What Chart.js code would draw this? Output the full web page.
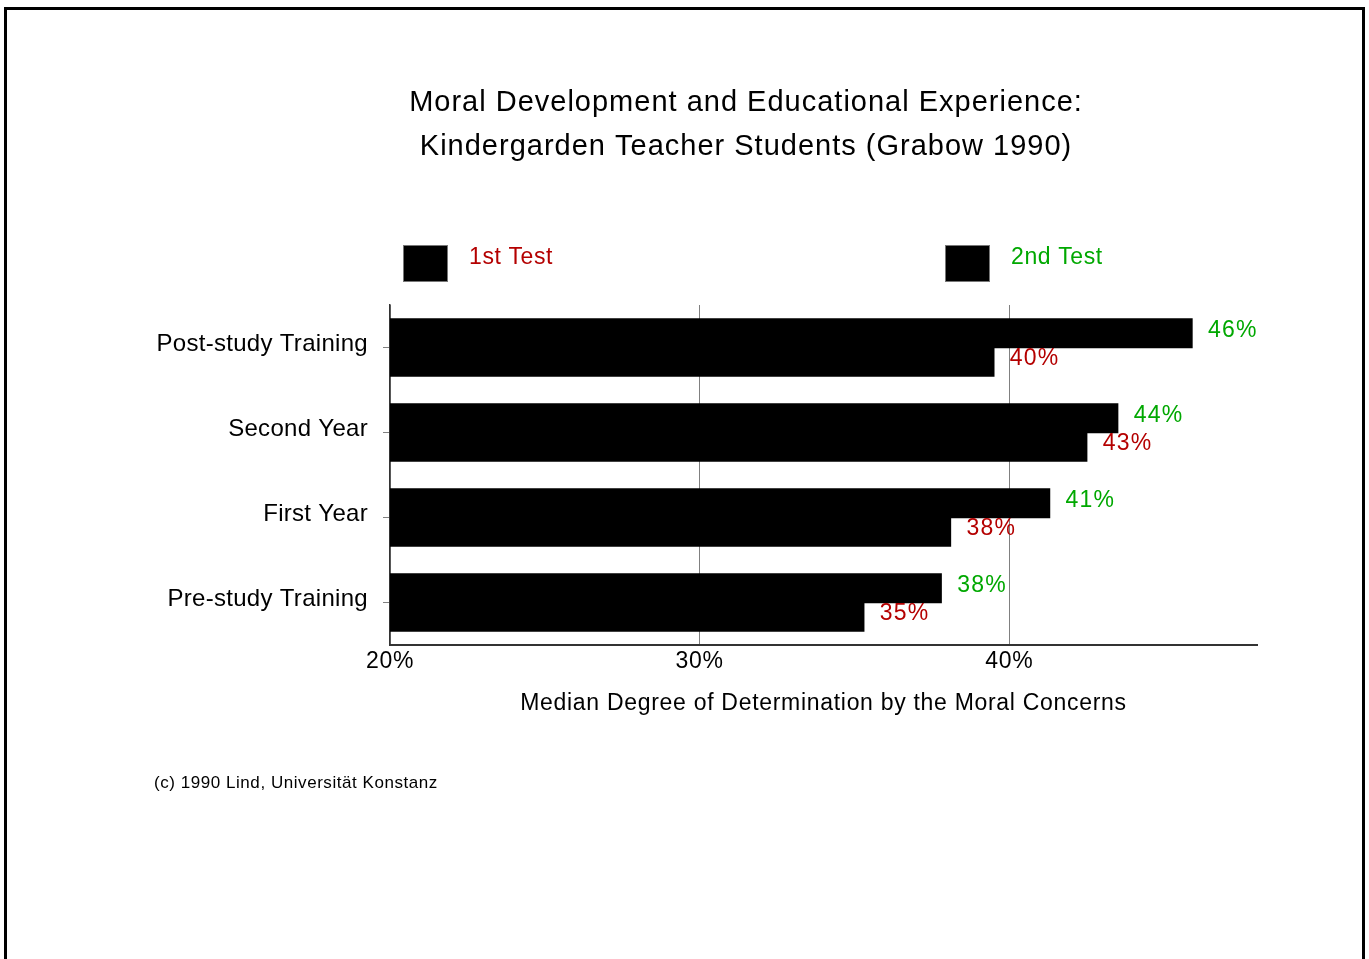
<!DOCTYPE html>
<html>
<head>
<meta charset="utf-8">
<script src="https://cdn.jsdelivr.net/npm/chart.js@4/dist/chart.umd.min.js"></script>
<style>
body{margin:0;background:#fff;}
#frame{position:absolute;left:4px;top:7px;width:1355px;height:960px;border:3px solid #000;border-bottom:none;}
canvas{position:absolute;left:0;top:0;}
</style>
</head>
<body>
<div id="frame"></div>
<canvas id="moral-chart" width="1369" height="959"></canvas>
<script>
// the data
const groups = ['Post-study Training', 'Second Year', 'First Year', 'Pre-study Training'];
const secondTest = [45.9, 43.5, 41.3, 37.8];
const firstTest = [39.5, 42.5, 38.1, 35.3];
const xTicks = [20, 30, 40];
const seriesNames = ['2nd Test', '1st Test'];
const titleLines = ['Moral Development and Educational Experience:', 'Kindergarden Teacher Students (Grabow 1990)'];
const footNote = '(c) 1990 Lind, Universit\u00e4t Konstanz';

const font = "'Liberation Sans', Arial, sans-serif";
const green = '#00a800';
const red = '#b40000';
const textColors = [green, red];

// the old picture has wide text, so add some letter spacing
const spacing = {
  id: 'spacing',
  beforeDraw(chart){
    chart.ctx.letterSpacing = '0.7px';
    const y = chart.scales.y;
    if (!y._spaced) {
      const orig = y.drawLabels.bind(y);
      y.drawLabels = function(area){
        const c = this.ctx;
        const old = c.letterSpacing;
        c.letterSpacing = '0.3px';
        orig(area);
        c.letterSpacing = old;
      };
      y._spaced = true;
    }
  }
};

// value labels next to each bar
const valueLabels = {
  id: 'valueLabels',
  afterDatasetsDraw(chart){
    const ctx = chart.ctx;
    ctx.save();
    ctx.letterSpacing = '1.2px';
    ctx.font = '23px ' + font;
    ctx.textAlign = 'left';
    ctx.textBaseline = 'middle';
    chart.data.datasets.forEach((ds, i) => {
      chart.getDatasetMeta(i).data.forEach((bar, j) => {
        ctx.fillStyle = textColors[i];
        ctx.fillText(Math.round(ds.data[j]) + '%', bar.x + 16, bar.y - 3);
      });
    });
    ctx.restore();
  }
};

// title, legend boxes, footer note
const extras = {
  id: 'extras',
  afterDraw(chart){
    const ctx = chart.ctx;
    ctx.save();
    ctx.textBaseline = 'middle';
    // title
    ctx.fillStyle = '#000';
    ctx.letterSpacing = '1px';
    ctx.font = '29px ' + font;
    ctx.textAlign = 'center';
    ctx.fillText(titleLines[0], 746, 103);
    ctx.fillText(titleLines[1], 746, 147);
    // legend: 1st test on the left, 2nd test on the right
    ctx.textAlign = 'left';
    ctx.letterSpacing = '0.6px';
    ctx.font = '23px ' + font;
    const spots = [{i: 1, x: 403}, {i: 0, x: 945}];
    spots.forEach(s => {
      ctx.fillStyle = '#000';
      ctx.fillRect(s.x, 245, 44, 36);
      ctx.strokeStyle = '#777';
      ctx.lineWidth = 1;
      ctx.strokeRect(s.x + 0.5, 245.5, 44, 36);
      ctx.fillStyle = textColors[s.i];
      ctx.fillText(chart.data.datasets[s.i].label, s.x + 66, 258);
    });
    // footer
    ctx.fillStyle = '#000';
    ctx.letterSpacing = '0.55px';
    ctx.font = '17px ' + font;
    ctx.fillText(footNote, 154, 783);
    ctx.restore();
  }
};

const ctx = document.getElementById('moral-chart').getContext('2d');
const myChart = new Chart(ctx, {
  type: 'bar',
  data: {
    labels: groups,
    datasets: [{
      label: seriesNames[0],
      data: secondTest,
      backgroundColor: '#000',
      borderWidth: 0,
      inflateAmount: 0.7
    }, {
      label: seriesNames[1],
      data: firstTest,
      backgroundColor: '#000',
      borderWidth: 0,
      inflateAmount: 0.7
    }]
  },
  options: {
    indexAxis: 'y',
    responsive: false,
    animation: false,
    categoryPercentage: 0.67,
    barPercentage: 1,
    layout: {padding: {left: 0, right: 112, top: 305, bottom: 0}},
    plugins: {
      legend: {display: false},
      tooltip: {enabled: false},
      title: {display: false}
    },
    scales: {
      x: {
        min: 20,
        max: 48,
        afterBuildTicks: s => { s.ticks = xTicks.map(v => ({value: v})); },
        afterFit: s => { s.height = 314; },
        ticks: {
          color: '#000',
          padding: 3,
          font: {family: font, size: 23},
          callback: v => v + '%'
        },
        grid: {color: '#808080', lineWidth: 1, drawTicks: false},
        border: {color: '#333', width: 2},
        title: {
          display: true,
          text: 'Median Degree of Determination by the Moral Concerns',
          color: '#000',
          font: {family: font, size: 23},
          padding: {bottom: 242}
        }
      },
      y: {
        afterFit: s => { s.width = 390; },
        ticks: {
          color: '#000',
          padding: 15,
          labelOffset: -3,
          font: {family: font, size: 24}
        },
        grid: {drawOnChartArea: false, offset: false, color: '#808080', tickLength: 7},
        border: {color: '#333', width: 1.5}
      }
    }
  },
  plugins: [spacing, valueLabels, extras]
});
</script>
</body>
</html>
